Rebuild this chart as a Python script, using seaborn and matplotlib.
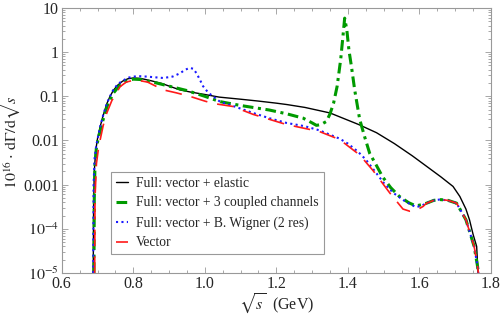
import matplotlib
matplotlib.use("Agg")

import numpy as np
import pandas as pd
import matplotlib.pyplot as plt
import seaborn as sns
from matplotlib.ticker import FixedLocator, LogLocator, NullFormatter

# ---------------------------------------------------------------
# Data (x = sqrt(s) in GeV)
# ---------------------------------------------------------------
elastic_x = [0.688, 0.689, 0.691, 0.695, 0.700, 0.707, 0.715, 0.726, 0.735, 0.744,
             0.755, 0.770, 0.785, 0.800, 0.820, 0.850, 0.880, 0.930, 0.960, 1.000,
             1.040, 1.100, 1.150, 1.200, 1.230, 1.280, 1.350, 1.430, 1.480, 1.530,
             1.580, 1.620, 1.660, 1.694, 1.713, 1.730, 1.740, 1.750, 1.760, 1.764]
elastic_y = [1e-5, 3e-4, 2e-3, 6e-3, 0.011, 0.020, 0.035, 0.068, 0.100, 0.135,
             0.175, 0.220, 0.250, 0.260, 0.255, 0.225, 0.195, 0.140, 0.125, 0.110,
             0.096, 0.086, 0.078, 0.070, 0.065, 0.056, 0.042, 0.023, 0.015, 0.0085,
             0.0045, 0.0026, 0.0015, 9.1e-4, 5.4e-4, 2.8e-4, 1.6e-4, 7.5e-5, 4e-5, 1e-5]

coupled_x = [0.690, 0.691, 0.693, 0.697, 0.703, 0.710, 0.720, 0.730, 0.745, 0.760,
             0.780, 0.800, 0.820, 0.860, 0.900, 0.950, 1.000, 1.042, 1.100, 1.180,
             1.230, 1.275, 1.300, 1.312, 1.325, 1.340, 1.350, 1.360, 1.370, 1.380,
             1.386, 1.391, 1.397, 1.403, 1.410, 1.419, 1.433, 1.447, 1.461, 1.480,
             1.497, 1.520, 1.544, 1.570, 1.590, 1.605, 1.620, 1.640, 1.657, 1.680,
             1.704, 1.730, 1.753, 1.762, 1.765]
coupled_y = [1e-5, 5e-4, 3e-3, 7e-3, 0.012, 0.020, 0.040, 0.070, 0.120, 0.170,
             0.220, 0.245, 0.240, 0.205, 0.170, 0.135, 0.100, 0.076, 0.062, 0.049,
             0.040, 0.032, 0.025, 0.022, 0.023, 0.027, 0.040, 0.070, 0.170, 0.700,
             2.2, 5.9, 3.2, 1.1, 0.47, 0.14, 0.030, 0.012, 0.0051, 0.0027,
             0.0015, 8.5e-4, 5.4e-4, 3.9e-4, 3.3e-4, 3.5e-4, 3.8e-4, 4.4e-4, 4.6e-4, 4.4e-4,
             3.8e-4, 1.6e-4, 4e-5, 1.5e-5, 1e-5]

bw_x = [0.688, 0.689, 0.692, 0.697, 0.707, 0.716, 0.726, 0.735, 0.744, 0.757,
        0.772, 0.787, 0.800, 0.820, 0.837, 0.860, 0.884, 0.910, 0.930, 0.945,
        0.958, 0.968, 0.977, 0.986, 0.995, 1.010, 1.023, 1.042, 1.080, 1.135,
        1.180, 1.228, 1.280, 1.320, 1.377, 1.400, 1.428, 1.450, 1.480, 1.500,
        1.527, 1.560, 1.590, 1.605, 1.620, 1.640, 1.657, 1.680, 1.704, 1.730,
        1.753, 1.762, 1.765]
bw_y = [1e-5, 1e-3, 4e-3, 8e-3, 0.020, 0.038, 0.069, 0.100, 0.140, 0.190,
        0.230, 0.265, 0.280, 0.285, 0.280, 0.270, 0.260, 0.280, 0.330, 0.400,
        0.440, 0.420, 0.330, 0.240, 0.170, 0.120, 0.100, 0.076, 0.060, 0.042,
        0.032, 0.025, 0.021, 0.017, 0.011, 0.0085, 0.0056, 0.0037, 0.0018, 0.0011,
        6.5e-4, 4.2e-4, 3.1e-4, 3.3e-4, 3.8e-4, 4.4e-4, 4.6e-4, 4.4e-4, 3.8e-4, 1.6e-4,
        4e-5, 1.5e-5, 1e-5]

vector_x = [0.692, 0.693, 0.697, 0.702, 0.707, 0.716, 0.726, 0.740, 0.763, 0.780,
            0.800, 0.810, 0.840, 0.884, 0.920, 0.958, 1.000, 1.023, 1.078, 1.135,
            1.228, 1.320, 1.377, 1.433, 1.470, 1.517, 1.554, 1.573, 1.590, 1.610,
            1.620, 1.640, 1.657, 1.680, 1.704, 1.730, 1.753, 1.762, 1.765]
vector_y = [1e-5, 5e-4, 3e-3, 6e-3, 0.010, 0.022, 0.042, 0.080, 0.165, 0.210,
            0.230, 0.233, 0.210, 0.140, 0.120, 0.100, 0.078, 0.069, 0.059, 0.039,
            0.023, 0.016, 0.0105, 0.0047, 0.0021, 6.5e-4, 2.8e-4, 2.5e-4, 2.6e-4, 3.2e-4,
            3.8e-4, 4.4e-4, 4.6e-4, 4.4e-4, 3.8e-4, 1.6e-4, 4e-5, 1.5e-5, 1e-5]

labels = ["Full: vector + elastic",
          "Full: vector + 3 coupled channels",
          "Full: vector + B. Wigner (2 res)",
          "Vector"]

x_ticks = [0.6, 0.8, 1.0, 1.2, 1.4, 1.6, 1.8]
y_ticks = [1e-5, 1e-4, 1e-3, 1e-2, 1e-1, 1, 10]
y_ticklabels = [r"$10^{-5}$", r"$10^{-4}$", "0.001", "0.01", "0.1", "1", "10"]

# ---------------------------------------------------------------
# Style
# ---------------------------------------------------------------
sns.set_theme(style="ticks")
plt.rcParams["font.family"] = ["Liberation Serif", "DejaVu Serif"]
plt.rcParams["mathtext.fontset"] = "stix"
plt.rcParams["xtick.direction"] = "in"
plt.rcParams["ytick.direction"] = "in"

frame = "#999999"

fig = plt.figure(figsize=(5.02, 3.2), dpi=100)
ax = fig.add_axes([0.123, 0.147, 0.855, 0.828])

sns.lineplot(x=elastic_x, y=elastic_y, ax=ax, color="black", lw=1.0,
             sort=False, estimator=None, label=labels[0])
sns.lineplot(x=coupled_x, y=coupled_y, ax=ax, color="#009a00", lw=2.2,
             sort=False, estimator=None, label=labels[1])
ax.lines[-1].set_dashes([3.5, 1.5, 1, 1.5])
sns.lineplot(x=bw_x, y=bw_y, ax=ax, color="#1a1aff", lw=1.5,
             sort=False, estimator=None, label=labels[2])
ax.lines[-1].set_dashes([1, 1.6])
sns.lineplot(x=vector_x, y=vector_y, ax=ax, color="#ff1a1a", lw=1.2,
             sort=False, estimator=None, label=labels[3])
ax.lines[-1].set_dashes([10, 6])

ax.set_yscale("log")
ax.set_xlim(0.6, 1.8)
ax.set_ylim(1e-5, 10)

ax.xaxis.set_major_locator(FixedLocator(x_ticks))
ax.set_xticklabels([f"{t:.1f}" for t in x_ticks])
ax.xaxis.set_minor_locator(FixedLocator(np.arange(0.6, 1.81, 0.05)))
ax.yaxis.set_major_locator(FixedLocator(y_ticks))
ax.set_yticklabels(y_ticklabels)
ax.yaxis.set_minor_locator(LogLocator(base=10, subs=np.arange(2, 10), numticks=20))
ax.yaxis.set_minor_formatter(NullFormatter())

ax.tick_params(which="both", top=True, right=True, color=frame, labelsize=11.5,
               width=0.6, pad=2)
ax.tick_params(which="major", length=4)
ax.tick_params(which="minor", length=2)
for sp in ax.spines.values():
    sp.set_color(frame)
    sp.set_linewidth(0.8)

ax.set_xlabel(r"$\sqrt{s}$  (GeV)", fontsize=11.5, labelpad=0)
ax.set_ylabel(r"$10^{16}\cdot\,\mathrm{d}\Gamma/\mathrm{d}\sqrt{s}$", fontsize=11.5,
              labelpad=0)

leg = ax.legend(loc="upper left", bbox_to_anchor=(0.115, 0.382), borderaxespad=0,
                fontsize=9.8, handlelength=0.9, handletextpad=0.6, borderpad=0.35,
                labelspacing=0.5, fancybox=False, framealpha=1, edgecolor=frame)
leg.get_frame().set_linewidth(0.8)

fig.savefig("out.png", dpi=100)
